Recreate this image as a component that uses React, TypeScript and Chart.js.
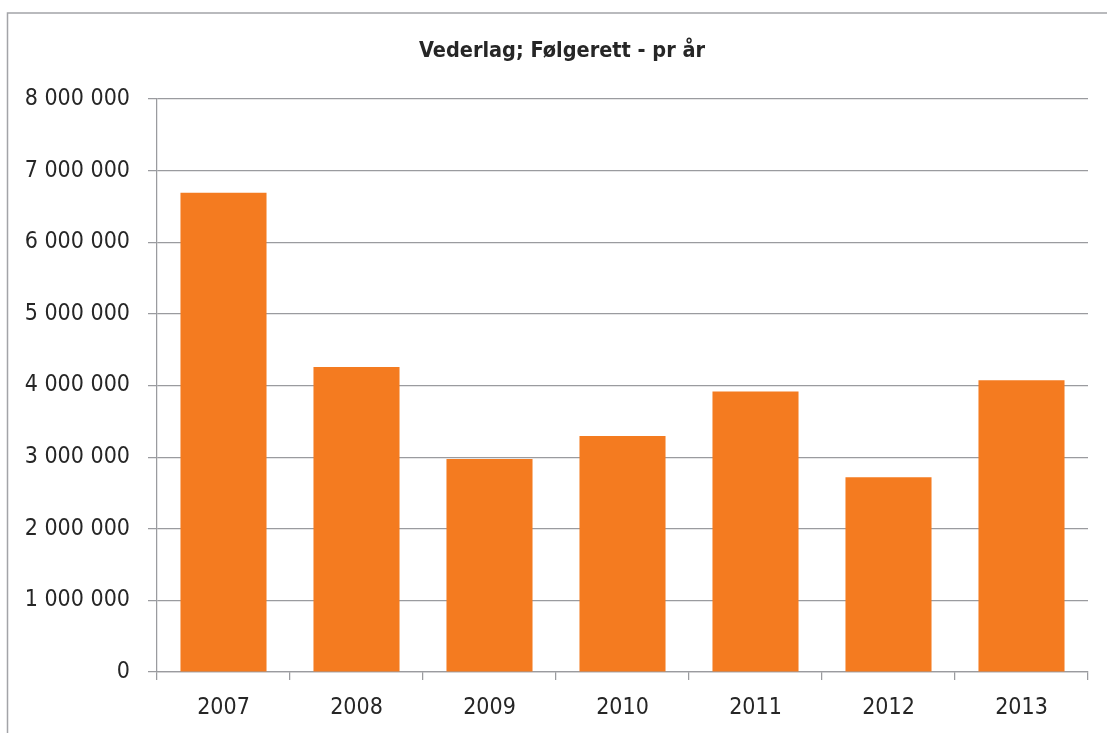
import React, { useEffect, useRef } from "react";
import { Chart, registerables } from "chart.js";

Chart.register(...registerables);

const years = ["2007", "2008", "2009", "2010", "2011", "2012", "2013"];
const values = [6690000, 4260000, 2975000, 3295000, 3915000, 2720000, 4075000];
const titleText = "Vederlag; Følgerett - pr år";
const yMin = 0;
const yMax = 8000000;
const yStep = 1000000;

const FONT = "'DejaVu Sans Condensed', 'DejaVu Sans', sans-serif";
const GRID = "#9a9b9f";
const TEXT = "#262626";
const BAR = "#f47b20";

const framePlugin = {
  id: "frame",
  beforeDraw(chart: any) {
    const ctx = chart.ctx;
    ctx.save();
    ctx.strokeStyle = "#a3a4a8";
    ctx.lineWidth = 1.5;
    ctx.beginPath();
    ctx.moveTo(7.5, chart.height);
    ctx.lineTo(7.5, 13);
    ctx.lineTo(chart.width, 13);
    ctx.stroke();
    ctx.restore();
  },
};

const fmt = (v: number) => String(v).replace(/\B(?=(\d{3})+(?!\d))/g, " ");

export default function App() {
  const ref = useRef<HTMLCanvasElement>(null);
  useEffect(() => {
    if (!ref.current) return;
    const chart = new Chart(ref.current, {
      type: "bar",
      data: {
        labels: years,
        datasets: [
          {
            data: values,
            backgroundColor: BAR,
            borderWidth: 0,
            barPercentage: 0.647,
            categoryPercentage: 1,
          },
        ],
      },
      options: {
        responsive: false,
        animation: false,
        layout: { padding: 0 },
        plugins: {
          legend: { display: false },
          tooltip: { enabled: false },
          title: {
            display: true,
            text: titleText,
            color: TEXT,
            font: { family: FONT, size: 21.5, weight: "bold", lineHeight: 1.2 },
            padding: { top: 39, bottom: 34.2 },
          },
        },
        scales: {
          x: {
            offset: true,
            grid: {
              offset: true,
              drawOnChartArea: false,
              drawTicks: true,
              tickLength: 8,
              color: GRID,
              lineWidth: 1.25,
            },
            border: { display: true, color: GRID, width: 1.25 },
            ticks: {
              color: TEXT,
              font: { family: FONT, size: 23 },
              padding: 14,
              maxRotation: 0,
            },
            afterFit: (s: any) => {
              s.height = 61;
            },
          },
          y: {
            min: yMin,
            max: yMax,
            grid: {
              color: GRID,
              lineWidth: 1.25,
              tickLength: 9,
            },
            border: { display: true, color: GRID, width: 1.25 },
            ticks: {
              stepSize: yStep,
              color: TEXT,
              font: { family: FONT, size: 23 },
              padding: 18,
              callback: (v: any) => fmt(Number(v)),
            },
            afterFit: (s: any) => {
              s.width = 157;
            },
          },
          right: {
            type: "linear",
            position: "right",
            display: true,
            grid: { display: false, drawOnChartArea: false },
            border: { display: false },
            ticks: { display: false },
            afterFit: (s: any) => {
              s.width = 36;
            },
          },
        },
      },
      plugins: [framePlugin],
    } as any);
    return () => chart.destroy();
  }, []);
  return (
    <div
      style={{
        position: "fixed",
        left: 0,
        top: 0,
        width: 1107,
        height: 733,
        overflow: "hidden",
        background: "#fff",
      }}
    >
      <canvas ref={ref} width={1124} height={733} style={{ width: 1124, height: 733, display: "block" }} />
    </div>
  );
}
